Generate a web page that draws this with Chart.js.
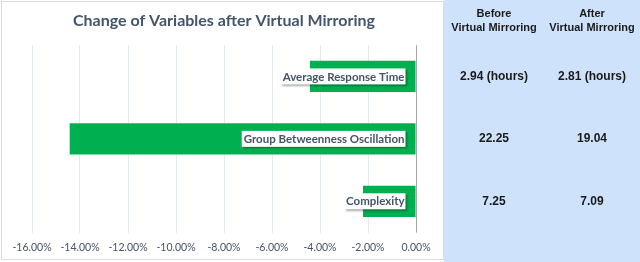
<!DOCTYPE html>
<html>
<head>
<meta charset="utf-8">
<script src="https://cdn.jsdelivr.net/npm/chart.js@4"></script>
<style>
  html, body { margin: 0; padding: 0; background: #fff; }
  #wrap { width: 640px; height: 262px; position: relative; }
</style>
</head>
<body>
<div id="wrap"><canvas id="chart" width="640" height="262"></canvas></div>
<script>
// chart data
const categories = ["Average Response Time", "Group Betweenness Oscillation", "Complexity"];
const changeValues = [-0.0442, -0.1443, -0.0221];
const beforeValues = ["2.94 (hours)", "22.25", "7.25"];
const afterValues = ["2.81 (hours)", "19.04", "7.09"];
const tableHeaders = [["Before", "Virtual Mirroring"], ["After", "Virtual Mirroring"]];

const textColor = "#44546a";
const labelFont = "bold 11.5px Lato";

// backgrounds: white chart box + blue table panel
const panelPlugin = {
  id: "panels",
  beforeDraw(chart) {
    const ctx = chart.ctx;
    ctx.save();
    ctx.fillStyle = "#ffffff";
    ctx.fillRect(0, 0, 640, 262);
    ctx.strokeStyle = "#d9dde2";
    ctx.lineWidth = 1;
    ctx.strokeRect(1.5, 1.5, 442, 258);
    ctx.fillStyle = "#cfe2fb";
    ctx.fillRect(444, 0, 196, 262);
    ctx.restore();
  },
  afterDatasetsDraw(chart) {
    const ctx = chart.ctx;
    const x = chart.scales.x;
    const y = chart.scales.y;
    const zero = Math.round(x.getPixelForValue(0)) + 0.5;
    ctx.save();
    // zero line
    ctx.strokeStyle = "#a6a6a6";
    ctx.lineWidth = 1;
    ctx.beginPath();
    ctx.moveTo(zero, chart.chartArea.top);
    ctx.lineTo(zero, chart.chartArea.bottom);
    ctx.stroke();

    // category labels in white boxes
    ctx.font = labelFont;
    ctx.textBaseline = "middle";
    ctx.textAlign = "right";
    categories.forEach((c, i) => {
      const cy = y.getPixelForValue(i);
      const right = zero - 11;
      const w = ctx.measureText(c).width + 3;
      ctx.save();
      ctx.shadowColor = "rgba(0,0,0,0.35)";
      ctx.shadowOffsetX = 1.5;
      ctx.shadowOffsetY = 1.5;
      ctx.shadowBlur = 2;
      ctx.fillStyle = "#ffffff";
      ctx.fillRect(right - w, cy - 8, w, 16);
      ctx.restore();
      ctx.fillStyle = textColor;
      ctx.fillText(c, right - 1, cy + 0.5);
    });

    // table on the right
    ctx.fillStyle = "#1a1a1a";
    ctx.textAlign = "center";
    const cols = [494, 592];
    ctx.font = "bold 11px 'Liberation Sans'";
    tableHeaders.forEach((h, j) => {
      ctx.fillText(h[0], cols[j], 14);
      ctx.fillText(h[1], cols[j], 27.5);
    });
    ctx.font = "bold 12px 'Liberation Sans'";
    categories.forEach((c, i) => {
      const cy = y.getPixelForValue(i);
      ctx.fillText(beforeValues[i], cols[0], cy);
      ctx.fillText(afterValues[i], cols[1], cy);
    });
    ctx.restore();
  }
};

new Chart(document.getElementById("chart"), {
  type: "bar",
  data: {
    labels: categories,
    datasets: [{
      data: changeValues,
      backgroundColor: "#00b050",
      categoryPercentage: 1,
      barPercentage: 0.5
    }]
  },
  options: {
    indexAxis: "y",
    responsive: false,
    animation: false,
    layout: { padding: { left: 32, right: 224, top: 0, bottom: 0 } },
    plugins: {
      legend: { display: false },
      tooltip: { enabled: false },
      title: {
        display: true,
        text: "Change of Variables after Virtual Mirroring",
        color: textColor,
        font: { family: "Lato", size: 16, weight: "bold", lineHeight: 1.2 },
        padding: { top: 11, bottom: 15 }
      }
    },
    scales: {
      x: {
        min: -0.16,
        max: 0,
        ticks: {
          stepSize: 0.02,
          color: textColor,
          font: { family: "Lato", size: 10.5, lineHeight: 1 },
          padding: 9.5,
          callback: (v) => (Math.abs(v) < 1e-9 ? 0 : v * 100).toFixed(2) + "%"
        },
        grid: { color: "#e4e9ee", drawTicks: false },
        border: { display: false }
      },
      y: {
        position: "right",
        ticks: { display: false },
        grid: { display: false },
        border: { display: false },
        afterFit: (s) => { s.width = 0; }
      }
    }
  },
  plugins: [panelPlugin]
});
</script>
</body>
</html>
